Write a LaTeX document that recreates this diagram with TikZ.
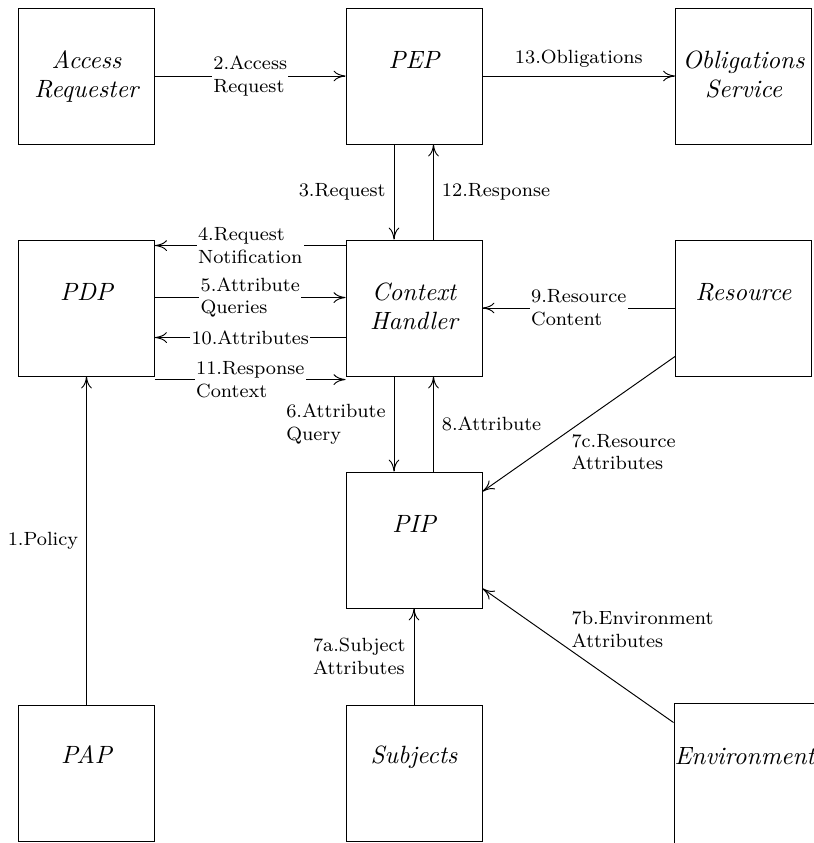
\documentclass[tikz,border=0pt]{standalone}
\usetikzlibrary{arrows.meta}
\begin{document}
\begin{tikzpicture}[x=0.4184pt,y=-0.4184pt,
  box/.style={draw, rectangle, minimum width=56.9pt, minimum height=56.9pt, inner sep=0pt, line width=0.4pt},
  boxtext/.style={anchor=north, align=center, inner sep=0pt, font=\fontsize{10.45}{12}\selectfont\itshape},
  lbl/.style={font=\footnotesize, align=left},
  cut/.style={lbl, fill=white, inner xsep=0.5pt, inner ysep=0pt},
  arr/.style={-{To[length=5pt,width=4.5pt]}, line width=0.4pt}]

\useasboundingbox (0,0) rectangle (814,843);
\fill[white] (0,0) rectangle (814,843);
\clip (0,0) rectangle (814,843);

% boxes
\node[box] (ar)   at (86.5,76)  {};
\node[box] (pep)  at (414,76)   {};
\node[box] (os)   at (743.5,76) {};
\node[box] (pdp)  at (86.5,308) {};
\node[box] (ch)   at (414,308)  {};
\node[box] (res)  at (743.5,308) {};
\node[box] (pip)  at (414,540)  {};
\node[box] (pap)  at (86.5,773) {};
\node[box] (subj) at (414,773)  {};
\node[box, minimum width=62.76pt, minimum height=62.76pt] (env) at (749,778) {};

% box texts
\node[boxtext] (art)   at ([yshift=-18pt]ar.north)   {Access\\Requester};
\node[boxtext] (pept)  at ([yshift=-18pt]pep.north)  {PEP};
\node[boxtext] (ost)   at ([yshift=-18pt]os.north)   {Obligations\\Service};
\node[boxtext] (pdpt)  at ([yshift=-18pt]pdp.north)  {PDP};
\node[boxtext] (cht)   at ([yshift=-18pt]ch.north)   {Context\\Handler};
\node[boxtext] (rest)  at ([yshift=-18pt]res.north)  {Resource};
\node[boxtext] (pipt)  at ([yshift=-18pt]pip.north)  {PIP};
\node[boxtext] (papt)  at ([yshift=-17pt]pap.north)  {PAP};
\node[boxtext] (subjt) at ([yshift=-17pt]subj.north) {Subjects};
\node[boxtext] (envt)  at ([xshift=29.8pt,yshift=-18.5pt]env.north west)  {Environment};

% connectors
\draw[arr] (ar.east) -- node[midway, cut] (l2) {2.Access\\Request} (pep.west);
\draw[arr] (pep.east) -- node[midway, above, lbl] (l13) {13.Obligations} (os.west);
\draw[arr] ([xshift=-8.37pt]pep.south) -- node[midway, left, lbl] (l3) {3.Request} ([xshift=-8.37pt]ch.north);
\draw[arr] ([xshift=8.16pt]ch.north) -- node[midway, right, lbl] (l12) {12.Response} ([xshift=8.16pt]pep.south);

\draw[arr] ([yshift=-2.51pt]ch.north west) -- node[midway, cut] (l4) {4.Request\\Notification} ([yshift=-2.51pt]pdp.north east);
\draw[arr] ([yshift=-24.27pt]pdp.north east) -- node[midway, cut] (l5) {5.Attribute\\Queries} ([yshift=-24.27pt]ch.north west);
\draw[arr] ([yshift=-41.0pt]ch.north west) -- node[midway, cut] (l10) {10.Attributes} ([yshift=-41.0pt]pdp.north east);
\draw[arr] ([yshift=-58.58pt]pdp.north east) -- node[midway, cut] (l11) {11.Response\\Context} ([yshift=-58.58pt]ch.north west);

\draw[arr] (res.west) -- node[midway, cut] (l9) {9.Resource\\Content} (ch.east);

\draw[arr] ([xshift=-8.37pt]ch.south) -- node[midway, left, lbl] (l6) {6.Attribute\\Query} ([xshift=-8.37pt]pip.north);
\draw[arr] ([xshift=8.16pt]pip.north) -- node[midway, right, lbl] (l8) {8.Attribute} ([xshift=8.16pt]ch.south);

\draw[arr] ([yshift=8.37pt]res.south west) -- node[pos=0.54, anchor=north west, lbl, inner sep=0pt, yshift=-1.7pt] (l7c) {7c.Resource\\Attributes} ([yshift=-8.37pt]pip.north east);
\draw[arr] ([yshift=-8.37pt]env.north west) -- node[pos=0.536, anchor=south west, lbl, inner sep=0pt, yshift=1.1pt] (l7b) {7b.Environment\\Attributes} ([yshift=8.37pt]pip.south east);
\draw[arr] (subj.north) -- node[midway, left, lbl] (l7a) {7a.Subject\\Attributes} (pip.south);
\draw[arr] (pap.north) -- node[midway, left, lbl] (l1) {1.Policy} (pdp.south);
\end{tikzpicture}
\end{document}
